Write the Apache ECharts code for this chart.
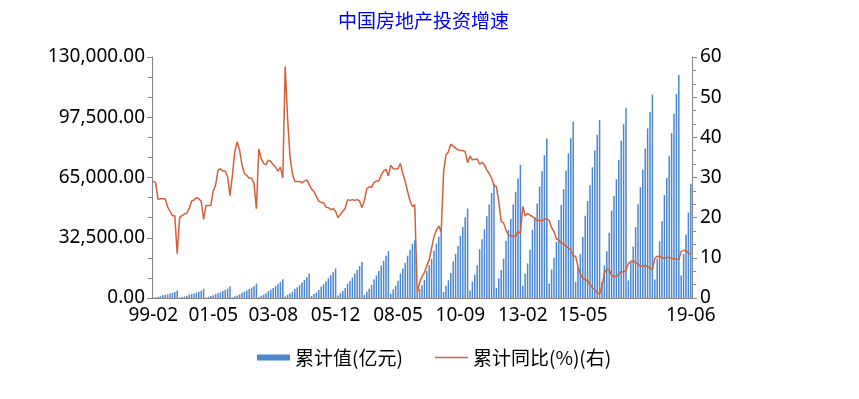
<!DOCTYPE html>
<html>
<head>
<meta charset="utf-8">
<script src="https://cdn.jsdelivr.net/npm/echarts@6/dist/echarts.min.js"></script>
<style>
  html, body { margin: 0; padding: 0; background: #fff; }
  #main { width: 859px; height: 399px; }
</style>
</head>
<body>
<div id="main"></div>
<script>
// 月度数据（每年2-12月，1月并入2月）
const years = [1999, 2000, 2001, 2002, 2003, 2004, 2005, 2006, 2007, 2008, 2009,
  2010, 2011, 2012, 2013, 2014, 2015, 2016, 2017, 2018, 2019];
const months = ['02', '03', '04', '05', '06', '07', '08', '09', '10', '11', '12'];
const tickLabels = ['99-02', '01-05', '03-08', '05-12', '08-05', '10-09', '13-02', '15-05', '19-06'];

// 累计值(亿元)
const investValue = [
  194, 440, 680, 960, 1420, 1700, 2010, 2430, 2800, 3220, 4103,
  250, 540, 830, 1170, 1720, 2060, 2450, 2970, 3420, 3960, 4984,
  310, 680, 1060, 1490, 2180, 2610, 3110, 3770, 4340, 5030, 6344,
  403, 920, 1400, 1950, 2840, 3380, 4000, 4860, 5610, 6490, 7791,
  553, 1240, 1860, 2590, 3780, 4510, 5340, 6510, 7520, 8670, 10154,
  872, 1760, 2480, 3420, 4880, 5820, 6890, 8420, 9700, 11260, 13158,
  1108, 2149, 3044, 4292, 6220, 7424, 8850, 10700, 12293, 13934, 15909,
  1330, 2674, 3810, 5407, 7696, 9195, 10957, 13199, 15134, 17226, 19423,
  1650, 3370, 4960, 7040, 10040, 12110, 14530, 17520, 20060, 22770, 25280,
  2193, 4577, 6629, 9270, 13196, 15946, 18959, 22810, 26084, 29134, 31203,
  2602, 4893, 6888, 9768, 14505, 17660, 21082, 25427, 29350, 33017, 36232,
  3335, 6594, 9548, 13523, 19747, 23727, 28042, 33488, 38366, 43487, 48267,
  4091, 8846, 12509, 17700, 26250, 31661, 37080, 44099, 50451, 56560, 61740,
  5395, 10598, 15085, 21224, 30856, 36594, 42814, 50452, 57297, 64510, 71804,
  6556, 13143, 18637, 26014, 36828, 43751, 50999, 60120, 68315, 77051, 86013,
  7803, 15339, 21764, 30357, 42019, 50102, 58709, 68751, 78018, 86220, 95036,
  8610, 16650, 23670, 32883, 44433, 52260, 60760, 70535, 79580, 88050, 95979,
  8811, 17677, 25254, 35180, 47140, 55030, 64057, 74598, 84860, 93790, 102581,
  9478, 19292, 27732, 38262, 50610, 59761, 69194, 80644, 91533, 100387, 109799,
  9994, 21291, 30592, 41349, 55531, 64669, 76519, 88948, 99325, 110083, 120264,
  12090, 23803, 34217, 46075, 61609
];

// 累计同比(%)
const investYoY = [
  29.1, 28.7, 24.6, 24.7, 24.7, 24.7, 22.7, 21.6, 20.5, 20.5, 11.0,
  20.0, 20.5, 20.9, 21.1, 22.3, 24.1, 24.4, 25.0, 24.7, 24.1, 19.6,
  23.0, 23.0, 23.0, 26.6, 28.1, 31.8, 32.2, 31.6, 31.6, 30.2, 25.5,
  30.6, 36.4, 38.9, 36.8, 33.1, 31.0, 30.5, 29.8, 29.8, 28.6, 22.2,
  37.1, 34.7, 33.5, 33.2, 34.3, 34.0, 33.2, 32.6, 31.6, 32.6, 29.9,
  57.6, 44.7, 35.2, 31.0, 29.0, 29.0, 29.0, 28.7, 29.1, 29.4, 28.3,
  27.1, 26.5, 25.3, 24.1, 23.8, 23.7, 22.6, 22.5, 22.0, 22.3, 21.6,
  20.0, 20.8, 21.6, 22.3, 24.5, 24.3, 24.5, 24.3, 24.5, 24.1, 22.5,
  24.3, 27.2, 27.7, 27.6, 28.8, 29.1, 29.1, 30.6, 31.6, 32.0, 30.4,
  33.1, 32.2, 32.1, 32.2, 33.5, 31.0, 29.0, 26.5, 24.2, 22.8, 23.2,
  1.2, 3.8, 5.3, 6.3, 8.0, 9.5, 12.4, 15.3, 16.9, 17.9, 16.5,
  31.4, 35.6, 36.4, 38.3, 37.8, 37.3, 36.9, 36.7, 36.7, 36.4, 33.7,
  35.3, 34.4, 34.5, 34.6, 33.3, 33.8, 33.1, 31.9, 31.0, 29.8, 28.1,
  27.7, 24.0, 19.0, 18.7, 16.9, 15.7, 15.5, 15.4, 15.4, 16.5, 16.2,
  22.8, 20.4, 21.1, 20.6, 20.3, 19.8, 19.3, 19.3, 19.2, 19.5, 19.8,
  19.3, 17.5, 16.5, 14.8, 14.3, 13.8, 13.4, 12.9, 12.5, 11.9, 10.5,
  10.4, 7.8, 6.0, 4.9, 4.6, 4.3, 3.4, 2.6, 2.0, 1.3, 1.0,
  3.0, 6.2, 7.2, 7.0, 5.7, 5.3, 5.4, 5.8, 6.6, 6.5, 6.9,
  8.6, 9.1, 9.3, 8.8, 8.5, 7.9, 7.9, 8.1, 7.8, 7.5, 7.0,
  9.9, 10.4, 10.3, 10.2, 9.7, 10.2, 10.1, 9.9, 9.7, 9.7, 9.5,
  11.6, 11.8, 11.9, 11.2, 10.9
];

var categories = [];
years.forEach(function (y) {
  months.forEach(function (m) {
    if (categories.length < investValue.length) {
      categories.push(String(y).slice(2) + '-' + m);
    }
  });
});

function showTick(idx, val) {
  return tickLabels.indexOf(categories[idx]) >= 0;
}

const axisColor = '#868686';
const barColor = '#4a87cc';
const lineColor = '#d2603a';
const numFont = 'Noto Sans';
const cjkFont = 'Noto Sans CJK SC';

var chart = echarts.init(document.getElementById('main'));
chart.setOption({
  animation: false,
  title: {
    text: '中国房地产投资增速',
    left: 333,
    top: 6,
    textStyle: { color: '#0000f0', fontSize: 19, fontWeight: 'normal', fontFamily: cjkFont }
  },
  legend: [
    {
      left: 252,
      top: 343,
      itemWidth: 33,
      itemHeight: 6,
      textStyle: { fontSize: 19, color: '#000', fontFamily: cjkFont },
      data: [{ name: '累计值(亿元)', icon: 'rect', itemStyle: { color: barColor } }]
    },
    {
      left: 430,
      top: 343,
      itemWidth: 33,
      itemHeight: 1.5,
      textStyle: { fontSize: 19, color: '#000', fontFamily: cjkFont },
      data: [{ name: '累计同比(%)(右)', icon: 'rect', itemStyle: { color: lineColor } }]
    }
  ],
  grid: { left: 152, right: 167, top: 57, bottom: 101 },
  xAxis: {
    type: 'category',
    data: categories,
    boundaryGap: true,
    axisLine: { lineStyle: { color: axisColor } },
    axisTick: { alignWithLabel: true, interval: showTick, length: 5, lineStyle: { color: axisColor } },
    axisLabel: { interval: showTick, color: '#000', fontSize: 19, fontFamily: numFont, margin: 8 }
  },
  yAxis: [
    {
      type: 'value',
      min: 0,
      max: 130000,
      interval: 32500,
      splitLine: { show: false },
      axisLine: { show: true, lineStyle: { color: axisColor } },
      axisTick: { show: true, length: 5, lineStyle: { color: axisColor } },
      minorTick: { show: true, splitNumber: 3, length: 4, lineStyle: { color: axisColor } },
      axisLabel: {
        color: '#000', fontSize: 19, fontFamily: numFont, margin: 7,
        formatter: function (v) {
          return v.toFixed(2).replace(/\B(?=(\d{3})+(?!\d))/g, ',');
        }
      }
    },
    {
      type: 'value',
      min: 0,
      max: 60,
      interval: 10,
      splitLine: { show: false },
      axisLine: { show: true, lineStyle: { color: axisColor } },
      axisTick: { show: true, length: 5, lineStyle: { color: axisColor } },
      minorTick: { show: true, splitNumber: 3, length: 4, lineStyle: { color: axisColor } },
      axisLabel: { color: '#000', fontSize: 19, fontFamily: numFont, margin: 8 }
    }
  ],
  series: [
    {
      name: '累计值(亿元)',
      type: 'bar',
      data: investValue,
      barWidth: 1.5,
      itemStyle: { color: barColor }
    },
    {
      name: '累计同比(%)(右)',
      type: 'line',
      yAxisIndex: 1,
      data: investYoY,
      symbol: 'none',
      lineStyle: { color: lineColor, width: 1.5 },
      itemStyle: { color: lineColor }
    }
  ]
});
</script>
</body>
</html>
